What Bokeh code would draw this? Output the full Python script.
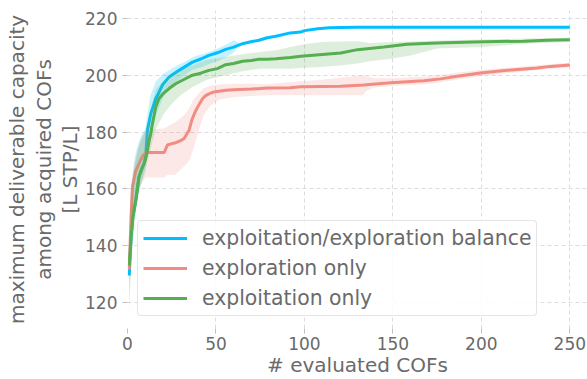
from bokeh.plotting import figure
from bokeh.models import Range1d, FixedTicker, Legend, LegendItem
from bokeh.embed import file_html
from bokeh.resources import INLINE

# ---- data ----
bal_x = [1, 2, 3, 4.7, 6.5, 8, 9.4, 10.3, 11.3, 12.2, 13.2, 14.5, 16, 17.8, 19.7, 23.5, 29.1, 36.7, 41.4,
         46, 50.8, 55.5, 60, 65, 69.7, 74.3, 79, 83.8, 92, 97.9, 100, 107.5, 114, 120.5, 130, 150, 200, 250]
bal_y = [129.5, 143, 150, 156.1, 164.3, 167, 169, 172, 180.8, 183.5, 186.6, 189, 191.9, 194, 196.6, 199.5,
         201.8, 204.7, 205.8, 207.1, 208, 209.2, 210, 211.2, 211.9, 212.4, 213.3, 213.8, 215, 215.3, 215.8,
         216.5, 216.8, 216.9, 217, 217, 217, 217]
bal_band_x = [1, 2, 4, 6, 8, 10, 13, 16, 20, 24, 28, 33, 37, 42, 46, 51, 56, 60, 63]
bal_lo = [122, 135, 150, 158, 163, 167, 178, 186, 192, 196, 198, 200.5, 202, 203, 204, 205, 206.5, 208, 210.6]
bal_hi = [137, 160, 171, 176, 179, 181, 193, 198, 200.5, 202, 203.5, 205, 206.5, 207.5, 208.3, 209.5, 211,
          212.4, 211.6]

expl_x = [1, 2, 2.8, 4.5, 6.5, 8.5, 10.3, 20.7, 22.6, 24, 27.3, 30, 32, 34.8, 36.5, 38.5, 40.5, 42.4, 44,
          46, 48.9, 55.5, 60, 70, 79, 92, 98, 120.5, 133.6, 148.7, 167.5, 177, 186.4, 199.5, 214.6, 231.5, 239, 250]
expl_y = [131.5, 150, 160.8, 166, 169, 171.5, 172.8, 172.8, 175.5, 175.8, 176.3, 177, 177.8, 180.7, 184.5,
          187.5, 189.8, 191.8, 192.8, 193.5, 194.2, 194.8, 195, 195.2, 195.6, 195.7, 196, 196.2, 196.6, 197.4,
          198.1, 198.8, 199.7, 200.9, 201.8, 202.6, 203.2, 203.7]
expl_band_x = [1, 2, 3, 5, 7, 9, 10.3, 15, 20.7, 22.6, 27, 32, 35, 37, 40, 43, 47, 52, 60, 70, 79, 92, 110,
               120, 133, 135, 139, 150, 170, 200, 230, 250]
expl_lo = [128, 140, 150, 158, 161, 163, 164, 164, 164, 165, 165, 168, 170, 173.7, 180, 186, 189.5, 191.5,
           192.4, 192.8, 193, 193, 193, 193, 193, 194.5, 195.7, 196.3, 197, 199.8, 201.8, 202.8]
expl_hi = [135, 158, 166, 172, 176, 179, 180.5, 181, 181.3, 182, 183.5, 186, 188.5, 191.3, 193.5, 195.5,
           196.5, 196.8, 197.1, 197.1, 196.9, 197.7, 198.5, 199.2, 200.1, 199.8, 199, 199, 199.7, 202, 203.5, 204.5]

exploit_x = [1, 2, 3, 4.7, 6.5, 8, 9.4, 10.3, 11.3, 12.2, 13.2, 14.1, 16, 17.8, 20, 23.5, 27, 31, 36.7, 41.4,
             46, 50.8, 55.5, 60, 65, 70, 74.3, 79, 83.8, 92, 98, 110, 120.5, 130, 145, 158, 175, 195.6, 224, 237, 250]
exploit_y = [133, 143, 150, 156.1, 164.3, 167, 169, 170.8, 173.7, 177, 179.6, 183, 189, 191.9, 193.5, 195.4,
             197, 198.3, 200.1, 200.8, 201.8, 202.4, 203.8, 204.2, 205, 205.3, 205.7, 205.7, 205.9, 206.3, 206.8,
             207.4, 207.9, 209.1, 210, 211, 211.4, 211.8, 212.1, 212.4, 212.6]
exploit_band_x = [1, 2, 4, 6, 8, 10, 13, 16, 20, 25, 30, 37, 45, 55, 65, 75, 84, 92, 100, 110, 120, 130, 137,
                  149, 160, 175, 200, 225, 250]
exploit_lo = [116, 133, 148, 157, 162, 166, 174, 181, 186, 190, 193, 196, 198.5, 200, 201.5, 202.4, 202.4,
              202.4, 202.7, 203, 203.5, 204.2, 205, 205.9, 207, 209.5, 210, 211.2, 211.8]
exploit_hi = [140, 158, 168, 174, 178, 180, 188, 195, 198, 200.5, 202, 203.6, 205.5, 206.5, 207.5, 208.3,
              208.9, 210, 211, 211.8, 212, 212.1, 211.4, 211.8, 212, 212.3, 212.7, 213, 213.3]

labels = ["exploitation/exploration balance", "exploration only", "exploitation only"]
x_ticks = [0, 50, 100, 150, 200, 250]
y_ticks = [120, 140, 160, 180, 200, 220]
x_title = "# evaluated COFs"
y_title = "maximum deliverable capacity\namong acquired COFs\n[L STP/L]"

BLUE = "#00bfff"
RED = "#f28b82"
GREEN = "#55ae50"
TXT = "#6a6a6a"
FONT = "DejaVu Sans"

p = figure(width=587, height=379, output_backend="svg", toolbar_location=None,
           x_range=Range1d(0, 260), y_range=Range1d(110.8, 222.9),
           min_border_left=127, min_border_right=0, min_border_top=10, min_border_bottom=50)
p.outline_line_color = None
p.background_fill_color = "white"

# series: band then line, in matplotlib order
p.varea(x=bal_band_x, y1=bal_lo, y2=bal_hi, fill_color=BLUE, fill_alpha=0.22)
r_bal = p.line(bal_x, bal_y, line_color=BLUE, line_width=3)
p.varea(x=expl_band_x, y1=expl_lo, y2=expl_hi, fill_color=RED, fill_alpha=0.2)
r_expl = p.line(expl_x, expl_y, line_color=RED, line_width=3)
p.varea(x=exploit_band_x, y1=exploit_lo, y2=exploit_hi, fill_color=GREEN, fill_alpha=0.2)
r_exploit = p.line(exploit_x, exploit_y, line_color=GREEN, line_width=3)

# axes
p.xaxis.ticker = FixedTicker(ticks=x_ticks)
p.yaxis.ticker = FixedTicker(ticks=y_ticks)
for ax in (p.xaxis[0], p.yaxis[0]):
    ax.axis_line_color = None
    ax.major_tick_line_color = "#c0c0c0"
    ax.major_tick_out = 5
    ax.major_tick_in = 0
    ax.minor_tick_line_color = None
    ax.major_label_text_font = FONT
    ax.major_label_text_font_size = "17px"
    ax.major_label_text_color = TXT
    ax.axis_label_text_font = FONT
    ax.axis_label_text_font_size = "20px"
    ax.axis_label_text_font_style = "normal"
    ax.axis_label_text_color = TXT
p.xaxis.axis_label = x_title
p.xaxis.major_label_standoff = 3
p.xaxis.axis_label_standoff = 0
p.yaxis.axis_label = y_title
p.yaxis.axis_label_text_line_height = 1.1
p.yaxis.major_label_standoff = 5
p.yaxis.axis_label_standoff = 0

for g in (p.xgrid[0], p.ygrid[0]):
    g.grid_line_color = "#dcdcdc"
    g.grid_line_dash = "4 3"
    g.grid_line_width = 1

legend = Legend(items=[LegendItem(label=labels[0], renderers=[r_bal]),
                       LegendItem(label=labels[1], renderers=[r_expl]),
                       LegendItem(label=labels[2], renderers=[r_exploit])],
                location=(10, 12))
legend.label_text_font = FONT
legend.label_text_font_size = "20.4px"
legend.label_text_color = TXT
legend.glyph_width = 44
legend.glyph_height = 24
legend.label_height = 24
legend.label_standoff = 15
legend.spacing = 6
legend.padding = 5
legend.margin = 0
legend.border_line_color = "#cccccc"
legend.border_line_width = 1.5
legend.border_radius = 4
legend.background_fill_alpha = 0.85
p.add_layout(legend, "center")

open("out.html", "w").write(file_html(p, INLINE))
